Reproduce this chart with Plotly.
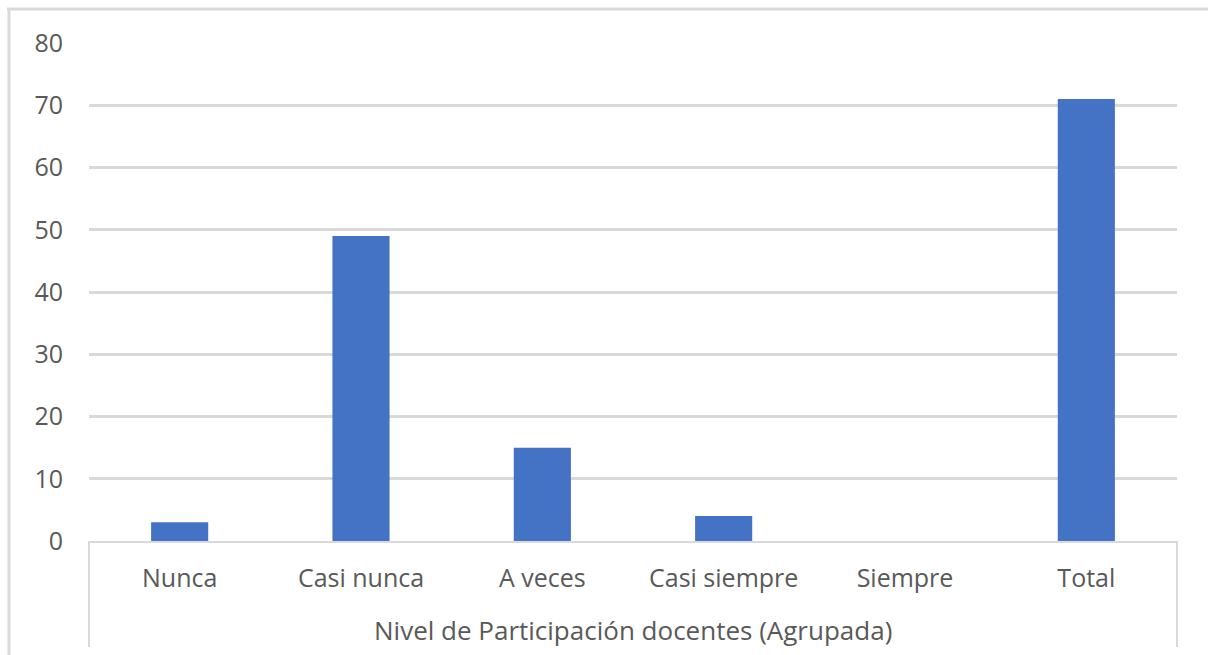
import plotly.graph_objects as go

# Participation levels (grouped) and teacher counts
categorias = ["Nunca", "Casi nunca", "A veces", "Casi siempre", "Siempre", "Total"]
valores = [3, 49, 15, 4, 0, 71]
grupo = "Nivel de Participación docentes (Agrupada)"
y_ticks = [0, 10, 20, 30, 40, 50, 60, 70, 80]

W, H = 1208, 655
ML, MR, MT, MB = 89, 31, 43, 114
PW, PH = W - ML - MR, H - MT - MB

GRID = "#d9d9d9"
TXT = "#595959"
FONT = "Open Sans, DejaVu Sans, sans-serif"
FS = 25

fig = go.Figure(
    go.Bar(
        x=categorias,
        y=valores,
        marker=dict(color="#4472C4", line=dict(width=0)),
        hoverinfo="x+y",
    )
)

def px_x(px):
    return (px - ML) / PW

def px_y(py):
    return (H - MB - py) / PH

shapes = [
    # category axis box sides
    dict(type="line", xref="paper", yref="paper", x0=0, x1=0,
         y0=0, y1=px_y(647), line=dict(color=GRID, width=2)),
    dict(type="line", xref="paper", yref="paper", x0=1, x1=1,
         y0=0, y1=px_y(647), line=dict(color=GRID, width=2)),
    # chart frame (top and left edges)
    dict(type="line", xref="paper", yref="paper", x0=px_x(7), x1=px_x(1210),
         y0=px_y(9), y1=px_y(9), line=dict(color=GRID, width=3)),
    dict(type="line", xref="paper", yref="paper", x0=px_x(9), x1=px_x(9),
         y0=px_y(8), y1=px_y(660), line=dict(color=GRID, width=3)),
]

fig.update_layout(
    width=W,
    height=H,
    margin=dict(l=ML, r=MR, t=MT, b=MB, pad=0),
    paper_bgcolor="white",
    plot_bgcolor="white",
    bargap=0.685,
    showlegend=False,
    font=dict(family=FONT, color=TXT, size=FS),
    shapes=shapes,
    annotations=[
        dict(text=grupo, xref="paper", yref="paper", x=0.5, y=0,
             yshift=-(630 - (H - MB)), xanchor="center", yanchor="middle",
             showarrow=False, font=dict(family=FONT, color=TXT, size=26)),
    ],
)

fig.update_xaxes(
    showgrid=False,
    showline=True,
    linecolor=GRID,
    linewidth=2,
    ticks="",
    ticklabelstandoff=14,
    tickfont=dict(family=FONT, color=TXT, size=FS),
)

fig.update_yaxes(
    range=[0, 80],
    tickvals=y_ticks,
    showgrid=True,
    gridcolor=GRID,
    gridwidth=2.5,
    zeroline=False,
    showline=False,
    ticks="",
    ticklabelstandoff=25,
    tickfont=dict(family=FONT, color=TXT, size=FS),
)

fig.write_html("out.html")
